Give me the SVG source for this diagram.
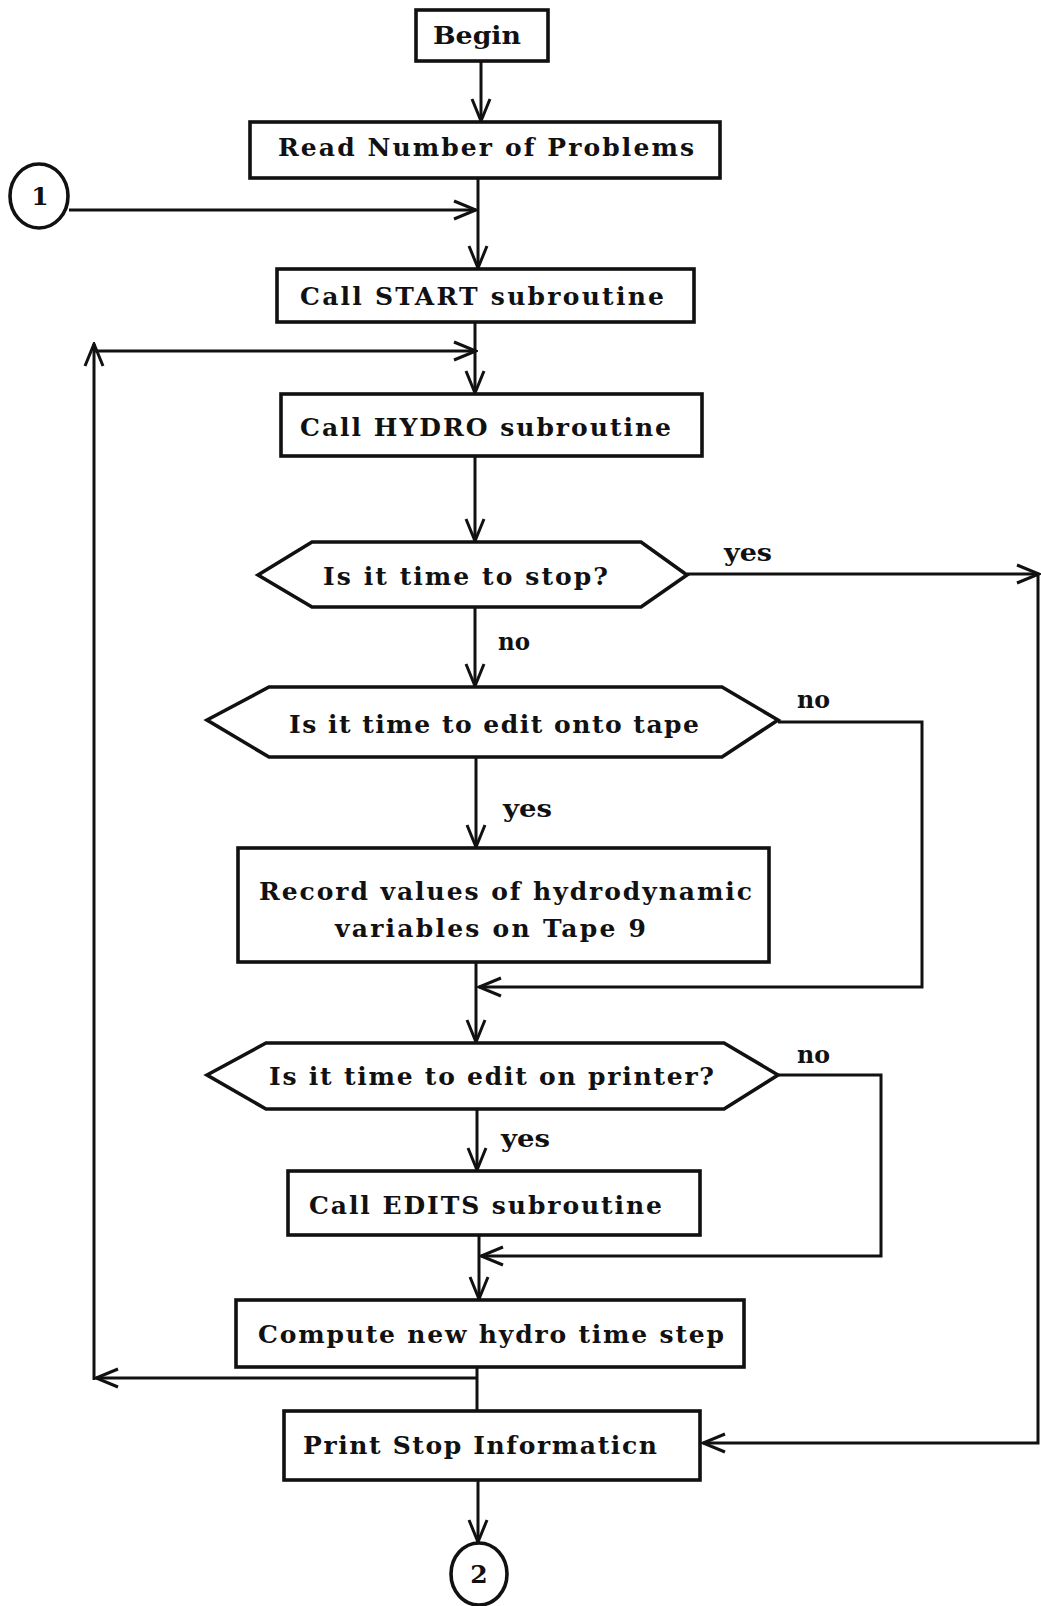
<svg xmlns="http://www.w3.org/2000/svg" width="1041" height="1606" viewBox="0 0 1041 1606">
<style>
.box{fill:#fff;stroke:#111;stroke-width:3.6}
.ln{fill:none;stroke:#111;stroke-width:3}
.t{font-family:"DejaVu Serif","Liberation Serif",serif;font-weight:bold;font-size:25px;fill:#111}
.lb{font-family:"DejaVu Serif","Liberation Serif",serif;font-weight:bold;font-size:24px;fill:#111}
.c{text-anchor:middle}
</style>
<defs>
<marker id="ah" viewBox="0 0 26 24" refX="24" refY="12" markerWidth="26" markerHeight="24" markerUnits="userSpaceOnUse" orient="auto">
<path d="M2,3 L24,12 L2,21" fill="none" stroke="#111" stroke-width="3"/>
</marker>
</defs>
<rect width="1041" height="1606" fill="#fff"/>
<g id="connectors">
<line class="ln" x1="481" y1="61" x2="481" y2="121" marker-end="url(#ah)"/>
<line class="ln" x1="478" y1="178" x2="478" y2="268" marker-end="url(#ah)"/>
<line class="ln" x1="69" y1="210" x2="476" y2="210" marker-end="url(#ah)"/>
<line class="ln" x1="475" y1="322" x2="475" y2="393" marker-end="url(#ah)"/>
<line class="ln" x1="94" y1="1380" x2="94" y2="344" marker-end="url(#ah)"/>
<line class="ln" x1="93" y1="351" x2="476" y2="351" marker-end="url(#ah)"/>
<line class="ln" x1="475" y1="456" x2="475" y2="541" marker-end="url(#ah)"/>
<line class="ln" x1="687" y1="574" x2="1039" y2="574" marker-end="url(#ah)"/>
<line class="ln" x1="475" y1="607" x2="475" y2="686" marker-end="url(#ah)"/>
<line class="ln" x1="476" y1="757" x2="476" y2="847" marker-end="url(#ah)"/>
<polyline class="ln" points="778,722 922,722 922,987 479,987" marker-end="url(#ah)"/>
<line class="ln" x1="476" y1="962" x2="476" y2="1042" marker-end="url(#ah)"/>
<line class="ln" x1="477" y1="1109" x2="477" y2="1170" marker-end="url(#ah)"/>
<polyline class="ln" points="778,1075 881,1075 881,1256 481,1256" marker-end="url(#ah)"/>
<line class="ln" x1="479" y1="1235" x2="479" y2="1299" marker-end="url(#ah)"/>
<line class="ln" x1="477" y1="1367" x2="477" y2="1411"/>
<line class="ln" x1="477" y1="1378" x2="96" y2="1378" marker-end="url(#ah)"/>
<polyline class="ln" points="1038,574 1038,1443 703,1443" marker-end="url(#ah)"/>
<line class="ln" x1="478" y1="1480" x2="478" y2="1542" marker-end="url(#ah)"/>
<text class="lb" x="724" y="561" textLength="48" lengthAdjust="spacingAndGlyphs">yes</text>
<text class="lb" x="498" y="650" textLength="32" lengthAdjust="spacingAndGlyphs">no</text>
<text class="lb" x="797" y="708" textLength="33" lengthAdjust="spacingAndGlyphs">no</text>
<text class="lb" x="503" y="817" textLength="49" lengthAdjust="spacingAndGlyphs">yes</text>
<text class="lb" x="797" y="1063" textLength="33" lengthAdjust="spacingAndGlyphs">no</text>
<text class="lb" x="501" y="1147" textLength="49" lengthAdjust="spacingAndGlyphs">yes</text>
</g>
<g id="begin">
<rect class="box" x="416" y="10" width="132" height="51"/>
<text class="t" x="433" y="44" textLength="88" lengthAdjust="spacingAndGlyphs">Begin</text>
</g>
<g id="read">
<rect class="box" x="250" y="122" width="470" height="56"/>
<text class="t" x="278" y="156" textLength="416" lengthAdjust="spacing">Read Number of Problems</text>
</g>
<g id="c1">
<ellipse class="box" cx="39" cy="196" rx="29" ry="32"/>
<text class="t c" x="40" y="205">1</text>
</g>
<g id="start">
<rect class="box" x="277" y="269" width="417" height="53"/>
<text class="t" x="300" y="305" textLength="364" lengthAdjust="spacing">Call START subroutine</text>
</g>
<g id="hydro">
<rect class="box" x="281" y="394" width="421" height="62"/>
<text class="t" x="300" y="436" textLength="371" lengthAdjust="spacing">Call HYDRO subroutine</text>
</g>
<g id="d1">
<polygon class="box" points="258,575 312,542 641,542 687,575 641,607 312,607"/>
<text class="t" x="323" y="585" textLength="285" lengthAdjust="spacing">Is it time to stop?</text>
</g>
<g id="d2">
<polygon class="box" points="207,720 269,687 722,687 778,720 722,757 269,757"/>
<text class="t" x="289" y="733" textLength="410" lengthAdjust="spacing">Is it time to edit onto tape</text>
</g>
<g id="record">
<rect class="box" x="238" y="848" width="531" height="114"/>
<text class="t" x="259" y="900" textLength="493" lengthAdjust="spacing">Record values of hydrodynamic</text>
<text class="t" x="335" y="937" textLength="311" lengthAdjust="spacing">variables on Tape 9</text>
</g>
<g id="d3">
<polygon class="box" points="207,1075 266,1043 724,1043 778,1075 724,1109 266,1109"/>
<text class="t" x="269" y="1085" textLength="445" lengthAdjust="spacing">Is it time to edit on printer?</text>
</g>
<g id="edits">
<rect class="box" x="288" y="1171" width="412" height="64"/>
<text class="t" x="309" y="1214" textLength="353" lengthAdjust="spacing">Call EDITS subroutine</text>
</g>
<g id="compute">
<rect class="box" x="236" y="1300" width="508" height="67"/>
<text class="t" x="258" y="1343" textLength="466" lengthAdjust="spacing">Compute new hydro time step</text>
</g>
<g id="print">
<rect class="box" x="284" y="1411" width="416" height="69"/>
<text class="t" x="303" y="1454" textLength="354" lengthAdjust="spacing">Print Stop Informaticn</text>
</g>
<g id="c2">
<ellipse class="box" cx="479" cy="1574" rx="28" ry="31"/>
<text class="t c" x="479" y="1583">2</text>
</g>
</svg>
